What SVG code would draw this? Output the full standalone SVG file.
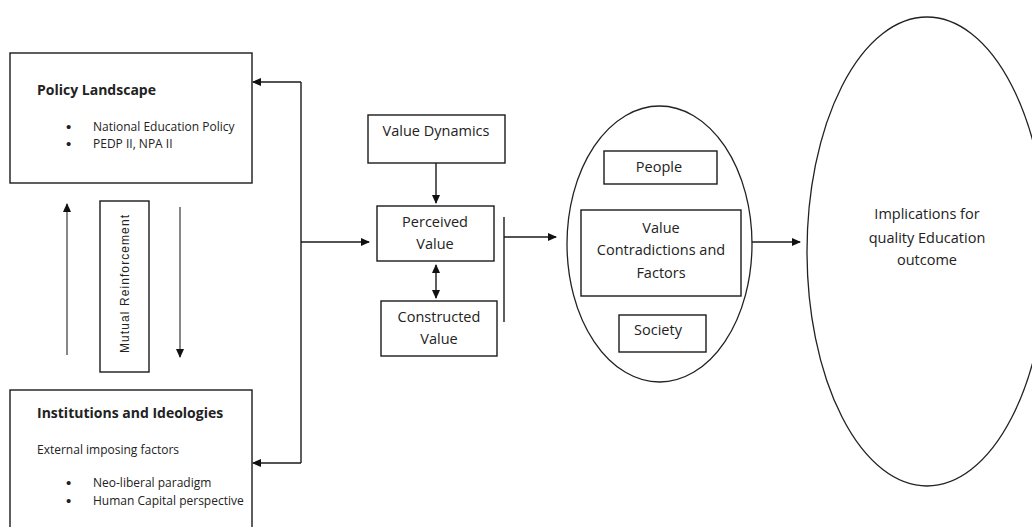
<svg xmlns="http://www.w3.org/2000/svg" width="1032" height="527" viewBox="0 0 1032 527">
<defs>
<marker id="ah" markerWidth="9" markerHeight="8" refX="8" refY="4" orient="auto-start-reverse" markerUnits="userSpaceOnUse">
<path d="M0,0 L9,4 L0,8 Z" fill="#111"/>
</marker>
<style>
.box{fill:#fff;stroke:#1a1a1a;stroke-width:1.4}
.ell{fill:#fff;stroke:#222;stroke-width:1.3}
.ln{fill:none;stroke:#1a1a1a;stroke-width:1.4}
.gl{fill:none;stroke:#555;stroke-width:1.4}
.t{font-family:"Open Sans","Liberation Sans",sans-serif;font-size:14.5px;fill:#222;text-anchor:middle}
.h{font-family:"Open Sans","Liberation Sans",sans-serif;font-weight:bold;fill:#222}
.s{font-family:"Open Sans","Liberation Sans",sans-serif;font-size:12px;fill:#222}
.b{font-family:"Liberation Sans",Arial,sans-serif;font-size:15px;fill:#222}
.m{font-family:"Liberation Sans",Arial,sans-serif;font-size:12px;fill:#222;text-anchor:middle}
</style>
</defs>
<rect width="1032" height="527" fill="#fff"/>

<g id="policy">
<rect class="box" x="10" y="53" width="242" height="130"/>
<text class="h" x="37" y="95" font-size="14px">Policy Landscape</text>
<text class="b" x="66" y="132">•</text>
<text class="s" x="93" y="131">National Education Policy</text>
<text class="b" x="66" y="149">•</text>
<text class="s" x="93" y="148">PEDP II, NPA II</text>
</g>

<g id="institutions">
<rect class="box" x="10" y="390" width="242" height="150"/>
<text class="h" x="37" y="418" font-size="14px">Institutions and Ideologies</text>
<text class="s" x="37" y="454" font-size="12.5px">External imposing factors</text>
<text class="b" x="66" y="488">•</text>
<text class="s" x="93" y="487" font-size="12.5px">Neo-liberal paradigm</text>
<text class="b" x="66" y="506">•</text>
<text class="s" x="93" y="505" font-size="12.5px">Human Capital perspective</text>
</g>

<g id="mutual">
<rect class="box" x="100" y="201" width="49" height="171"/>
<text class="m" transform="translate(129,284) rotate(-90)" textLength="138" lengthAdjust="spacing">Mutual Reinforcement</text>
</g>

<g id="value-dynamics">
<rect class="box" x="368" y="115" width="137" height="48"/>
<text class="t" x="436" y="136">Value Dynamics</text>
</g>

<g id="perceived">
<rect class="box" x="377" y="206" width="117" height="55"/>
<text class="t" x="435" y="227">Perceived</text>
<text class="t" x="435" y="249">Value</text>
</g>

<g id="constructed">
<rect class="box" x="381" y="301" width="116" height="55"/>
<text class="t" x="439" y="322">Constructed</text>
<text class="t" x="439" y="344">Value</text>
</g>

<g id="contradictions">
<ellipse class="ell" cx="659.5" cy="244" rx="92.5" ry="138"/>
<rect class="box" x="604" y="151" width="113" height="33"/>
<text class="t" x="659" y="172">People</text>
<rect class="box" x="581" y="210" width="160" height="86"/>
<text class="t" x="661" y="233">Value</text>
<text class="t" x="661" y="255">Contradictions and</text>
<text class="t" x="661" y="278">Factors</text>
<rect class="box" x="619" y="315" width="87" height="37"/>
<text class="t" x="658" y="335">Society</text>
</g>

<g id="implications">
<ellipse class="ell" cx="927" cy="251.5" rx="120" ry="234.5"/>
<text class="t" x="927" y="219" font-size="15px">Implications for</text>
<text class="t" x="927" y="243" font-size="15px">quality Education</text>
<text class="t" x="927" y="265" font-size="15px">outcome</text>
</g>

<g id="connectors">
<line class="ln" x1="301" y1="82" x2="301" y2="463"/>
<line class="ln" x1="301" y1="82" x2="253" y2="82" marker-end="url(#ah)"/>
<line class="ln" x1="301" y1="463" x2="253" y2="463" marker-end="url(#ah)"/>
<line class="ln" x1="301" y1="242" x2="369" y2="242" marker-end="url(#ah)"/>
<line class="gl" x1="67" y1="355" x2="67" y2="204" marker-end="url(#ah)"/>
<line class="gl" x1="180" y1="207" x2="180" y2="357" marker-end="url(#ah)"/>
<line class="ln" x1="436" y1="163" x2="436" y2="203" marker-end="url(#ah)"/>
<line class="ln" x1="436" y1="265" x2="436" y2="298" marker-start="url(#ah)" marker-end="url(#ah)"/>
<line class="ln" x1="504" y1="217" x2="504" y2="322"/>
<line class="ln" x1="504" y1="237" x2="556" y2="237" marker-end="url(#ah)"/>
<line class="ln" x1="752" y1="242" x2="800" y2="242" marker-end="url(#ah)"/>
</g>
</svg>
